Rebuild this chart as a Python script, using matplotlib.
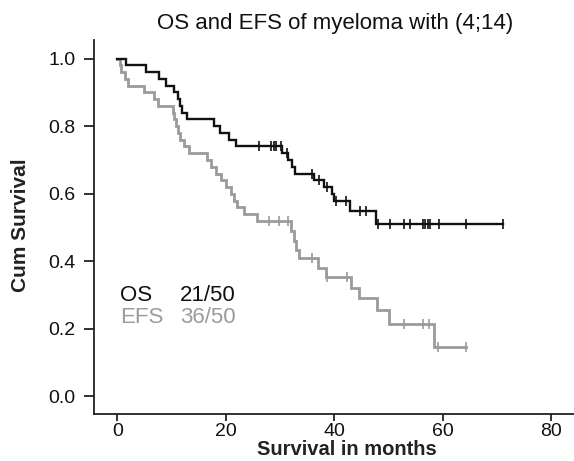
import numpy as np
import matplotlib
matplotlib.use("Agg")
import matplotlib.pyplot as plt

plt.rcParams['font.family'] = ['Liberation Sans', 'DejaVu Sans']

# ---- data ----
os_event_times = [0, 1.6, 5.2, 7.7, 8.9, 10.5, 11.1, 11.5, 12.0, 12.9,
                  17.8, 19.0, 20.5, 21.8, 30.4, 31.5, 32.2, 32.7,
                  36.2, 38.1, 39.6, 39.9, 42.9, 47.7]
os_levels = [1.0, 0.98, 0.96, 0.94, 0.92, 0.90, 0.88, 0.86, 0.84, 0.82,
             0.80, 0.78, 0.76, 0.74, 0.72, 0.70, 0.68, 0.66,
             0.64, 0.62, 0.60, 0.58, 0.55, 0.51]
os_end = 71.2
os_censor = [26.1, 28.3, 28.8, 29.2, 30.1, 31.3, 35.9, 37.2, 38.6, 40.4,
             42.1, 44.7, 45.8, 48.0, 50.2, 52.8, 53.9, 56.3, 56.7, 57.2,
             57.6, 59.3, 64.3, 71.2]

efs_event_times = [0, 0.5, 0.7, 1.5, 1.9, 4.9, 6.8, 7.5, 10.2, 10.5, 10.8,
                   11.1, 11.6, 12.3, 13.3, 16.6, 17.2, 18.1, 19.1, 20.0,
                   20.9, 21.5, 22.1, 23.4, 25.8, 32.0, 32.5, 32.9, 33.5,
                   37.0, 38.4, 43.0, 44.6, 47.9, 50.0, 58.3]
efs_levels = [1.0, 0.98, 0.96, 0.94, 0.92, 0.90, 0.88, 0.86, 0.84, 0.82, 0.80,
              0.78, 0.76, 0.74, 0.72, 0.70, 0.68, 0.66, 0.64, 0.62,
              0.60, 0.58, 0.56, 0.54, 0.52, 0.49, 0.46, 0.435, 0.41,
              0.38, 0.355, 0.32, 0.29, 0.255, 0.215, 0.145]
efs_end = 64.2
efs_censor = [28.0, 29.8, 31.5, 35.9, 38.7, 42.3, 52.8, 56.4, 57.4, 59.1, 64.2]

legend_names = ["OS", "EFS"]
legend_counts = ["21/50", "36/50"]

x_ticks = [0, 20, 40, 60, 80]
y_ticks = [0.0, 0.2, 0.4, 0.6, 0.8, 1.0]

# ---- figure ----
fig = plt.figure(figsize=(5.74, 4.61), dpi=100)
ax = fig.add_axes([0.1638, 0.102, 0.8362, 0.811])

def draw(times, levels, end, censor, color, lw):
    t = list(times) + [end]
    l = list(levels) + [levels[-1]]
    ax.step(t, l, where='post', color=color, lw=lw, solid_joinstyle='miter')
    idx = np.searchsorted(np.array(times), np.array(censor), side='right') - 1
    cy = np.array(levels)[idx]
    ax.plot(censor, cy, linestyle='none', marker='|', markersize=7,
            mew=1.2, color=color)

draw(efs_event_times, efs_levels, efs_end, efs_censor, '#9b9b9b', 2.0)
draw(os_event_times, os_levels, os_end, os_censor, '#111111', 1.7)

ax.set_xlim(-4.3, 84.2)
ax.set_ylim(-0.052, 1.055)
ax.set_xticks(x_ticks)
ax.set_xticklabels([str(v) for v in x_ticks])
ax.set_yticks(y_ticks)
ax.set_yticklabels([f"{v:.1f}" for v in y_ticks])

for s in ['top', 'right']:
    ax.spines[s].set_visible(False)
for s in ['left', 'bottom']:
    ax.spines[s].set_linewidth(1.3)
    ax.spines[s].set_color('#222222')

ax.tick_params(axis='both', direction='out', width=1.3,
               labelsize=14, colors='#222222', labelcolor='#111111')
ax.tick_params(axis='x', length=5, pad=1.5)
ax.tick_params(axis='y', length=7.5, pad=6)

# legend-like text
ax.text(0.5, 0.30, legend_names[0], fontsize=16, color='#111111', va='center', ha='left')
ax.text(11.6, 0.30, legend_counts[0], fontsize=16, color='#111111', va='center', ha='left')
ax.text(0.5, 0.235, legend_names[1], fontsize=16, color='#9b9b9b', va='center', ha='left')
ax.text(11.6, 0.235, legend_counts[1], fontsize=16, color='#9b9b9b', va='center', ha='left')

fig.text(0.5845, 0.950, "OS and EFS of myeloma with (4;14)", fontsize=16,
         ha='center', va='center', color='#111111')
fig.text(0.604, 0.024, "Survival in months", fontsize=14.5, fontweight='bold',
         ha='center', va='center', color='#222222')
fig.text(0.036, 0.512, "Cum Survival", fontsize=15, fontweight='bold',
         rotation=90, ha='center', va='center', color='#222222')

fig.savefig("out.png", dpi=100)
